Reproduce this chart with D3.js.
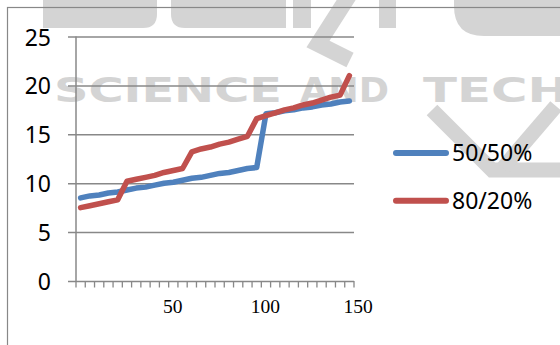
<!DOCTYPE html>
<meta charset="utf-8">
<title>50/50 vs 80/20</title>
<script src="https://d3js.org/d3.v7.min.js"></script>
<style>
  body { margin: 0; background: #fff; }
  .ylab { font-family: "Noto Sans", sans-serif; font-size: 23px; fill: #000; }
  .xlab { font-family: "Liberation Serif", "Times New Roman", serif; font-size: 19.5px; fill: #000; text-anchor: middle; }
  .leg { font-family: "Noto Sans", sans-serif; font-size: 23px; fill: #000; }
  .mark { font-family: "DejaVu Sans", sans-serif; font-weight: bold; font-size: 34px; fill: #d4d4d4; }
</style>
<div id="chart"></div>
<script>
// categories along the x axis (30 of them, step 5)
var categories = [5, 10, 15, 20, 25, 30, 35, 40, 45, 50,
                  55, 60, 65, 70, 75, 80, 85, 90, 95, 100,
                  105, 110, 115, 120, 125, 130, 135, 140, 145, 150];

var series5050 = [8.5, 8.7, 8.8, 9.0, 9.1, 9.3, 9.5, 9.6, 9.8, 10.0,
                  10.1, 10.3, 10.5, 10.6, 10.8, 11.0, 11.1, 11.3, 11.5, 11.6,
                  17.1, 17.2, 17.4, 17.5, 17.7, 17.8, 18.0, 18.1, 18.3, 18.4];

var series8020 = [7.5, 7.7, 7.9, 8.1, 8.3, 10.2, 10.4, 10.6, 10.8, 11.1,
                  11.3, 11.5, 13.2, 13.5, 13.7, 14.0, 14.2, 14.5, 14.8, 16.6,
                  16.9, 17.2, 17.5, 17.7, 18.0, 18.2, 18.5, 18.8, 19.0, 21.0];

var seriesNames = ["50/50%", "80/20%"];
var seriesColors = ["#4f81bd", "#c0504d"];
var yTicks = [0, 5, 10, 15, 20, 25];
var xLabels = [50, 100, 150];

var W = 560, H = 345;
var gray = "#888888";

var svg = d3.select("#chart").append("svg")
    .attr("width", W)
    .attr("height", H);

// watermark behind everything
var wm = svg.append("g").attr("fill", "#d4d4d4").attr("stroke", "none");
wm.append("path").attr("d", "M43,0 H157 V14 Q157,28 143,28 H43 Z");
wm.append("path").attr("d", "M171,0 H286 V28 H185 Q171,28 171,14 Z");
wm.append("rect").attr("x", 293).attr("y", 0).attr("width", 18).attr("height", 28);
wm.append("rect").attr("x", 379).attr("y", 0).attr("width", 17).attr("height", 28);
wm.append("path").attr("d", "M454,0 H560 V36 H484 Q454,36 454,6 Z");
wm.append("path").attr("d", "M350,-6 L318,44 L350,60")
    .attr("fill", "none").attr("stroke", "#d4d4d4").attr("stroke-width", 16);
wm.append("path").attr("d", "M432,110 L492,170 L562,170")
    .attr("fill", "none").attr("stroke", "#d4d4d4").attr("stroke-width", 15);
wm.append("path").attr("d", "M556,106 L503,168")
    .attr("fill", "none").attr("stroke", "#d4d4d4").attr("stroke-width", 15);

[["SCIENCE", 54, 228], ["AND", 300, 89], ["TECH", 423, 146]].forEach(function(w) {
  svg.append("text").attr("class", "mark")
    .attr("x", w[1]).attr("y", 102)
    .attr("textLength", w[2]).attr("lengthAdjust", "spacingAndGlyphs")
    .text(w[0]);
});

// outer frame (runs off the right and bottom edges)
svg.append("rect")
    .attr("x", 7.5).attr("y", 7.5)
    .attr("width", 700).attr("height", 500)
    .attr("fill", "none").attr("stroke", gray).attr("stroke-width", 1.2);

var x = d3.scaleBand().domain(categories).range([76, 354]);
var y = d3.scaleLinear().domain([0, 25]).range([281, 36.5]);

// y axis: gridlines + left tick stubs
var yAxis = svg.append("g")
    .attr("transform", "translate(354,0)")
    .call(d3.axisLeft(y).tickValues(yTicks).tickSize(286).tickPadding(17));
yAxis.select(".domain").remove();
yAxis.selectAll(".tick line").attr("stroke", gray).attr("stroke-width", 1.5);
yAxis.selectAll(".tick text").attr("class", "ylab").attr("dy", "0.37em");
yAxis.attr("font-family", null).attr("font-size", null);

svg.append("line")
    .attr("x1", 76).attr("x2", 76)
    .attr("y1", y(25)).attr("y2", y(0))
    .attr("stroke", gray).attr("stroke-width", 1.5);

// x axis minor ticks on category boundaries
var bounds = categories.map(function(c) { return x(c); }).concat([x.range()[1]]);
svg.append("g").selectAll("line")
  .data(bounds)
  .enter().append("line")
    .attr("x1", function(d) { return d; })
    .attr("x2", function(d) { return d; })
    .attr("y1", y(0)).attr("y2", y(0) + 6.5)
    .attr("stroke", gray).attr("stroke-width", 1.3);

svg.append("g").selectAll("text")
  .data(xLabels)
  .enter().append("text")
    .attr("class", "xlab")
    .attr("x", function(d) { return x(d) + x.bandwidth() + 4; })
    .attr("y", 313)
    .text(function(d) { return d; });

// lines
var line = d3.line()
    .x(function(d, i) { return x(categories[i]) + x.bandwidth() / 2; })
    .y(function(d) { return y(d); });

[series5050, series8020].forEach(function(s, i) {
  svg.append("path")
    .datum(s)
    .attr("d", line)
    .attr("fill", "none")
    .attr("stroke", seriesColors[i])
    .attr("stroke-width", 5.5)
    .attr("stroke-linejoin", "round")
    .attr("stroke-linecap", "round");
});

// legend
var leg = svg.append("g");
seriesNames.forEach(function(n, i) {
  var ly = 153 + i * 47.7;
  leg.append("line")
    .attr("x1", 396).attr("x2", 446)
    .attr("y1", ly).attr("y2", ly)
    .attr("stroke", seriesColors[i])
    .attr("stroke-width", 6)
    .attr("stroke-linecap", "round");
  leg.append("text").attr("class", "leg")
    .attr("x", 452).attr("y", ly + 8)
    .text(n);
});
</script>
